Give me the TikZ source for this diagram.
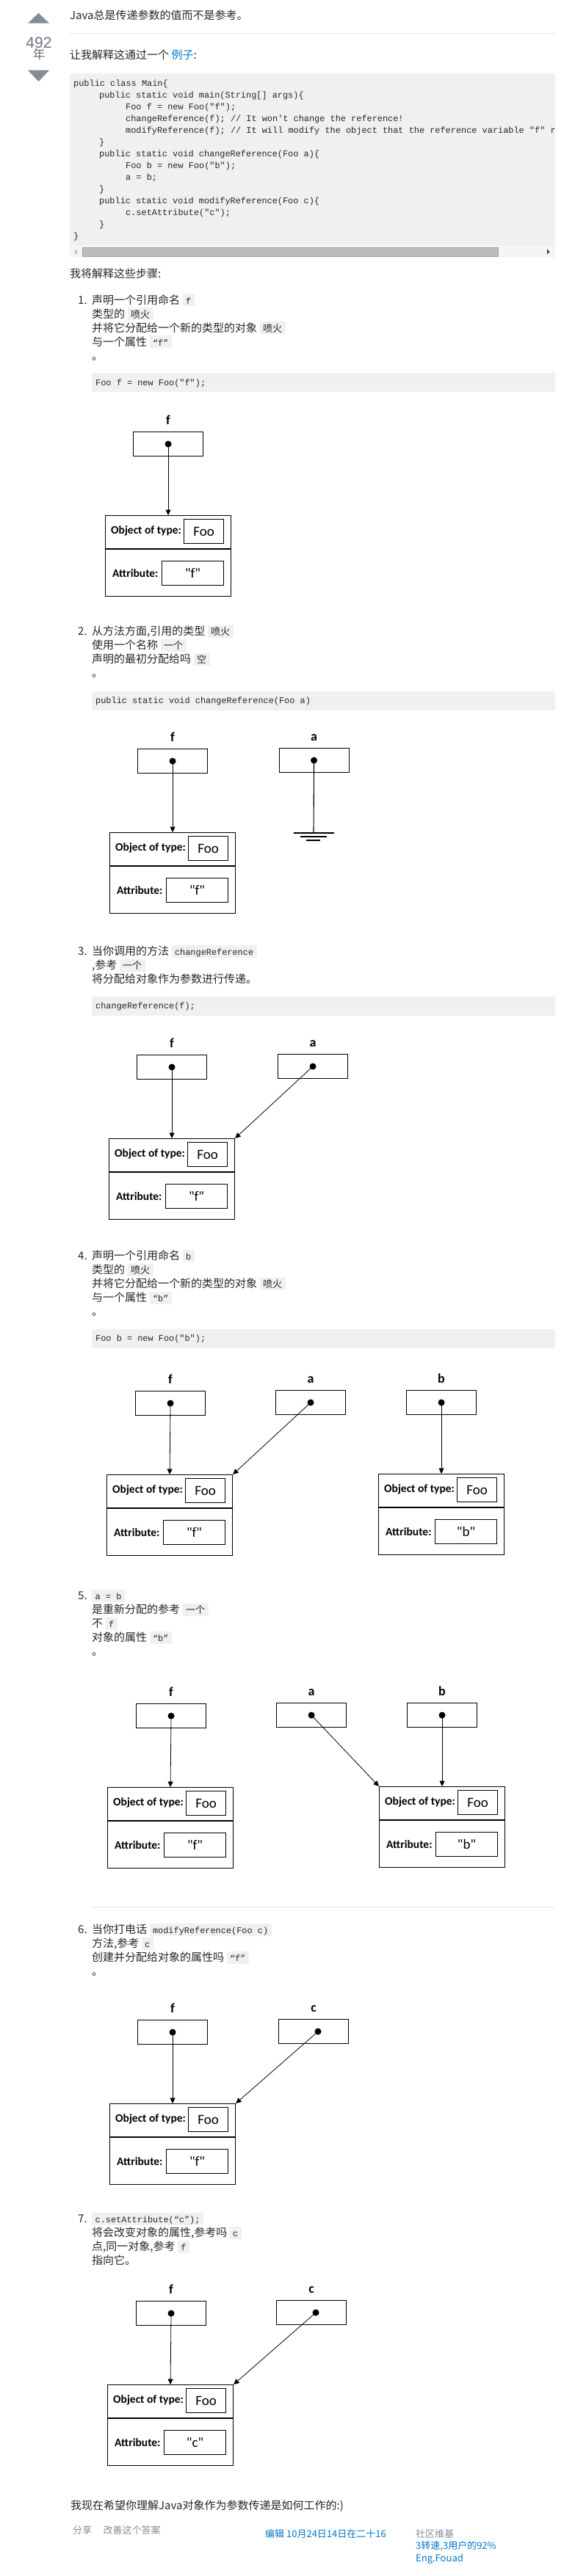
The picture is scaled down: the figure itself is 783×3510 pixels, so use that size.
\documentclass[tikz,border=0pt]{standalone}
\usepackage{fontspec}
\setmainfont{Noto Sans CJK SC}
\setmonofont{Liberation Mono}
\newfontfamily\carl{Carlito}
\newfontfamily\lib{Liberation Sans}
\usetikzlibrary{arrows.meta}
\definecolor{txt}{HTML}{242729}
\definecolor{codebg}{HTML}{EFF0F1}
\definecolor{linkc}{HTML}{0077CC}
\definecolor{softgray}{HTML}{848D95}
\definecolor{votec}{HTML}{858C93}
\definecolor{numc}{HTML}{6A737C}
\definecolor{rulec}{HTML}{E4E6E8}
\definecolor{track}{HTML}{F5F5F5}
\definecolor{thumb}{HTML}{BDBDBD}
\definecolor{thumbline}{HTML}{A3A3A3}
\newcommand\icm[1]{{\setlength{\fboxsep}{0pt}\colorbox{codebg}{\rule[-3pt]{0pt}{17pt}\hspace{4.5pt}{\ttfamily\fontsize{11.9pt}{14pt}\selectfont #1}\hspace{4.5pt}}}}
\newcommand\icc[1]{{\setlength{\fboxsep}{0pt}\colorbox{codebg}{\rule[-3pt]{0pt}{17pt}\hspace{4.5pt}{\fontsize{13pt}{14pt}\selectfont #1}\hspace{4.5pt}}}}
\newcommand\foofont{\carl\fontsize{19pt}{20pt}\selectfont}
\newcommand\olfont{\carl\bfseries\fontsize{15.5pt}{16pt}\selectfont}
\newcommand\vlfont{\carl\bfseries\fontsize{18pt}{18pt}\selectfont}
\tikzset{
  pr/.style={anchor=base west, inner sep=0pt, text=txt, font=\fontsize{15pt}{19pt}\selectfont},
  cd/.style={anchor=base west, inner sep=0pt, text=txt, font=\ttfamily\fontsize{11.9pt}{16pt}\selectfont},
  ft/.style={anchor=base west, inner sep=0pt, font=\fontsize{13pt}{15pt}\selectfont},
  codeblk/.style={fill=codebg, anchor=north west, minimum width=631pt, minimum height=26pt, inner sep=0pt},
  varbox/.style={draw, line width=1.1pt, minimum width=95pt, minimum height=33pt, inner sep=0pt},
  objbox/.style={draw, line width=1.1pt, minimum width=171pt, minimum height=110pt, inner sep=0pt},
  valbox/.style={draw, line width=1.1pt, inner sep=0pt, font=\foofont},
  pdot/.style={circle, fill=black, inner sep=0pt, minimum size=9pt},
  ptr/.style={line width=0.8pt, -{Triangle[width=7pt,length=7.5pt]}},
  olbl/.style={anchor=west, inner sep=0pt, font=\olfont},
  vlbl/.style={anchor=base, inner sep=0pt, font=\vlfont},
  gline/.style={line width=1.1pt}
}
% variable box: name, label, x, y, dot xshift
\newcommand\refvar[5]{%
  \node[varbox, anchor=north west] (#1) at (#3,#4) {};
  \node[pdot] (#1d) at ([xshift=#5]#1.center) {};
  \node[vlbl] (#1l) at ([yshift=10pt]#1.north) {#2};
}
% object: name, x, y, attribute
\newcommand\fooobj[4]{%
  \node[objbox, anchor=north west] (#1) at (#2,#3) {};
  \draw[gline] ([yshift=-46pt]#1.north west) -- ([yshift=-46pt]#1.north east);
  \node[valbox, minimum width=54pt, minimum height=33pt, anchor=north west] (#1t) at ([xshift=107pt,yshift=-5pt]#1.north west) {Foo};
  \node[valbox, minimum width=84pt, minimum height=33pt, anchor=north west] (#1a) at ([xshift=77pt,yshift=-62pt]#1.north west) {#4};
  \node[olbl] (#1lt) at ([xshift=8pt,yshift=-21.5pt]#1.north west) {Object of type:};
  \node[olbl] (#1la) at ([xshift=10pt,yshift=-79pt]#1.north west) {Attribute:};
}
\begin{document}
\begin{tikzpicture}[x=1pt,y=-1pt]
\useasboundingbox[fill=white] (0,0) rectangle (783,3510);

% votes
\fill[votec] (38,31.7) -- (67,31.7) -- (52.5,17.7) -- cycle;
\node[anchor=base, inner sep=0pt, text=numc, font=\lib\fontsize{21pt}{21pt}\selectfont] (votes) at (53,65) {492};
\node[anchor=base, inner sep=0pt, text=numc, font=\fontsize{17pt}{17pt}\selectfont] (nian) at (53,80) {年};
\fill[votec] (38,95.7) -- (67,95.7) -- (52.5,111) -- cycle;

% header
\node[pr] (title) at (95,26.5) {Java总是传递参数的值而不是参考。};
\draw[rulec, line width=1pt] (95,45) -- (756,45);
\node[pr] (intro) at (95,80.5) {让我解释这通过一个 \textcolor{linkc}{例子}:};

% main code block
\fill[codebg] (95,100) rectangle (756,351);
\begin{scope}
\clip (95,100) rectangle (756,351);
\node[cd] (c1) at (100,117) {public class Main\{};
\node[cd] (c2) at (135,133) {public static void main(String[] args)\{};
\node[cd] (c3) at (171,149) {Foo f = new Foo("f");};
\node[cd] (c4) at (171,165) {changeReference(f); // It won't change the reference!};
\node[cd] (c5) at (171,181) {modifyReference(f); // It will modify the object that the reference variable "f" refers to!};
\node[cd] (c6) at (135,197) {\}};
\node[cd] (c7) at (135,213) {public static void changeReference(Foo a)\{};
\node[cd] (c8) at (171,229) {Foo b = new Foo("b");};
\node[cd] (c9) at (171,245) {a = b;};
\node[cd] (c10) at (135,261) {\}};
\node[cd] (c11) at (135,277) {public static void modifyReference(Foo c)\{};
\node[cd] (c12) at (171,293) {c.setAttribute("c");};
\node[cd] (c13) at (135,309) {\}};
\node[cd] (c14) at (100,325) {\}};
\end{scope}
% scrollbar
\fill[track] (95,335) rectangle (756,351);
\draw[fill=thumb, draw=thumbline, line width=0.8pt] (112,337) rectangle (678,349);
\fill[black!30] (101,343) -- (104.5,339.5) -- (104.5,346.5) -- cycle;
\fill[black!75] (748.5,343) -- (745,339.5) -- (745,346.5) -- cycle;

\node[pr] (steps) at (95,378.5) {我将解释这些步骤:};

% ---------- step 1
\node[pr] (n1) at (106,414) {1.};
\node[pr] (s1a) at (125,414) {声明一个引用命名 \icm{f}};
\node[pr] (s1b) at (125,433) {类型的 \icc{喷火}};
\node[pr] (s1c) at (125,452) {并将它分配给一个新的类型的对象 \icc{喷火}};
\node[pr] (s1d) at (125,471) {与一个属性 \icm{“f”}};
\node[pr] (s1e) at (125,490) {。};
\node[codeblk] (k1) at (125,508) {};
\node[cd] (k1t) at (130,525.5) {Foo f = new Foo("f");};
\refvar{v1f}{f}{181}{588}{0pt}
\fooobj{o1}{143}{702}{"f"}
\draw[ptr] (v1fd.center) -- (o1.north);

% ---------- step 2
\node[pr] (n2) at (106,865.5) {2.};
\node[pr] (s2a) at (125,865.5) {从方法方面,引用的类型 \icc{喷火}};
\node[pr] (s2b) at (125,884.5) {使用一个名称 \icc{一个}};
\node[pr] (s2c) at (125,903.5) {声明的最初分配给吗 \icc{空}};
\node[pr] (s2d) at (125,922.5) {。};
\node[codeblk] (k2) at (125,942) {};
\node[cd] (k2t) at (130,958.5) {public static void changeReference(Foo a)};
\refvar{v2f}{f}{187}{1020}{0pt}
\refvar{v2a}{a}{379.5}{1019}{0pt}
\fooobj{o2}{149}{1134}{"f"}
\draw[ptr] (v2fd.center) -- (o2.north);
\coordinate (g2) at (427,1135);
\draw[gline] (v2ad.center) -- (g2);
\draw[gline] ([xshift=-27.5pt]g2) -- ([xshift=27.5pt]g2);
\draw[gline] ([xshift=-18.5pt,yshift=-5pt]g2) -- ([xshift=17.5pt,yshift=-5pt]g2);
\draw[gline] ([xshift=-10.5pt,yshift=-10pt]g2) -- ([xshift=8.5pt,yshift=-10pt]g2);

% ---------- step 3
\node[pr] (n3) at (106,1301.5) {3.};
\node[pr] (s3a) at (125,1301.5) {当你调用的方法 \icm{changeReference}};
\node[pr] (s3b) at (125,1320.5) {,参考 \icc{一个}};
\node[pr] (s3c) at (125,1339.5) {将分配给对象作为参数进行传递。};
\node[codeblk] (k3) at (125,1358) {};
\node[cd] (k3t) at (130,1374.5) {changeReference(f);};
\refvar{v3f}{f}{186}{1437}{0pt}
\refvar{v3a}{a}{378}{1436}{0pt}
\fooobj{o3}{148}{1551}{"f"}
\draw[ptr] (v3fd.center) -- (o3.north);
\draw[ptr] (v3ad.center) -- (o3.north east);

% ---------- step 4
\node[pr] (n4) at (106,1716.5) {4.};
\node[pr] (s4a) at (125,1716.5) {声明一个引用命名 \icm{b}};
\node[pr] (s4b) at (125,1735.5) {类型的 \icc{喷火}};
\node[pr] (s4c) at (125,1754.5) {并将它分配给一个新的类型的对象 \icc{喷火}};
\node[pr] (s4d) at (125,1773.5) {与一个属性 \icm{“b”}};
\node[pr] (s4e) at (125,1792.5) {。};
\node[codeblk] (k4) at (125,1811) {};
\node[cd] (k4t) at (130,1827.5) {Foo b = new Foo("b");};
\refvar{v4f}{f}{184}{1895}{0pt}
\refvar{v4a}{a}{375}{1894}{0pt}
\refvar{v4b}{b}{553}{1894}{0pt}
\fooobj{o4f}{145}{2009}{"f"}
\fooobj{o4b}{515}{2008}{"b"}
\draw[ptr] (v4fd.center) -- (o4f.north);
\draw[ptr] (v4ad.center) -- (o4f.north east);
\draw[ptr] (v4bd.center) -- (o4b.north);

% ---------- step 5
\node[pr] (n5) at (106,2179.5) {5.};
\node[pr] (s5a) at (125,2179.5) {\icm{a = b}};
\node[pr] (s5b) at (125,2198.5) {是重新分配的参考 \icc{一个}};
\node[pr] (s5c) at (125,2217.5) {不 \icm{f}};
\node[pr] (s5d) at (125,2236.5) {对象的属性 \icm{“b”}};
\node[pr] (s5e) at (125,2255.5) {。};
\refvar{v5f}{f}{185}{2321}{0pt}
\refvar{v5a}{a}{376}{2320}{0pt}
\refvar{v5b}{b}{554}{2320}{0pt}
\fooobj{o5f}{146}{2435}{"f"}
\fooobj{o5b}{516}{2434}{"b"}
\draw[ptr] (v5fd.center) -- (o5f.north);
\draw[ptr] (v5ad.center) -- (o5b.north west);
\draw[ptr] (v5bd.center) -- (o5b.north);

\draw[rulec, line width=1pt] (125,2598) -- (756,2598);

% ---------- step 6
\node[pr] (n6) at (106,2634.5) {6.};
\node[pr] (s6a) at (125,2634.5) {当你打电话 \icm{modifyReference(Foo c)}};
\node[pr] (s6b) at (125,2653.5) {方法,参考 \icm{c}};
\node[pr] (s6c) at (125,2672.5) {创建并分配给对象的属性吗 \icm{“f”}};
\node[pr] (s6d) at (125,2691.5) {。};
\refvar{v6f}{f}{187}{2752}{0pt}
\refvar{v6c}{c}{379}{2751}{6pt}
\fooobj{o6}{149}{2866}{"f"}
\draw[ptr] (v6fd.center) -- (o6.north);
\draw[ptr] (v6cd.center) -- (o6.north east);

% ---------- step 7
\node[pr] (n7) at (106,3028.5) {7.};
\node[pr] (s7a) at (125,3028.5) {\icm{c.setAttribute(“c”);}};
\node[pr] (s7b) at (125,3047.5) {将会改变对象的属性,参考吗 \icm{c}};
\node[pr] (s7c) at (125,3066.5) {点,同一对象,参考 \icm{f}};
\node[pr] (s7d) at (125,3085.5) {指向它。};
\refvar{v7f}{f}{185}{3135}{0pt}
\refvar{v7c}{c}{376}{3134}{6pt}
\fooobj{o7}{146}{3249}{"c"}
\draw[ptr] (v7fd.center) -- (o7.north);
\draw[ptr] (v7cd.center) -- (o7.north east);

% ---------- closing
\node[pr] (outro) at (96,3419) {我现在希望你理解Java对象作为参数传递是如何工作的:)};
\node[ft, text=softgray] (share) at (99,3452) {分享};
\node[ft, text=softgray] (improve) at (140.5,3452) {改善这个答案};
\node[ft, text=linkc] (edited) at (361,3457) {编辑 10月24日14日在二十16};
\node[ft, text=softgray] (wiki) at (566,3457) {社区维基};
\node[ft, text=linkc] (revs) at (566,3473) {3转速,3用户的92\%};
\node[ft, text=linkc] (eng) at (566,3490) {Eng.Fouad};
\end{tikzpicture}
\end{document}
